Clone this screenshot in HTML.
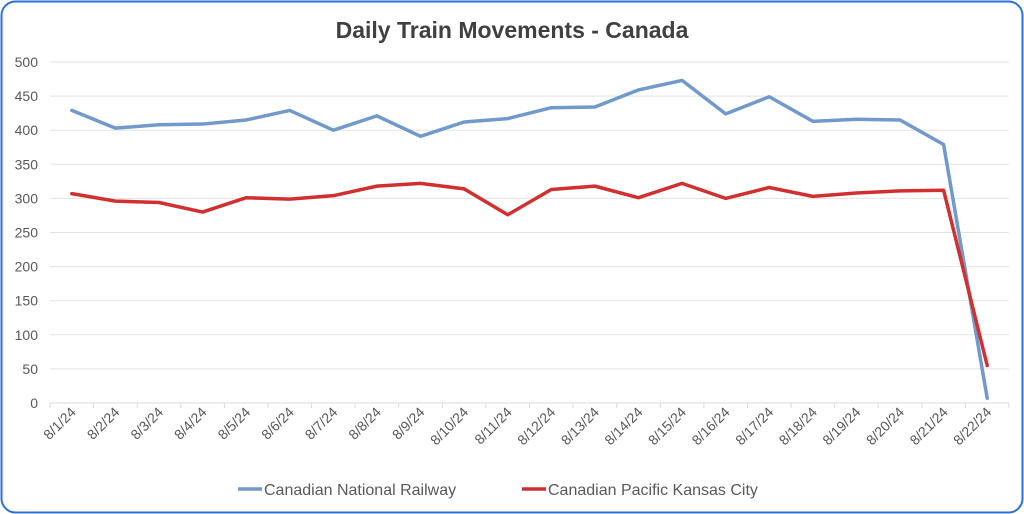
<!DOCTYPE html>
<html><head><meta charset="utf-8"><style>
html,body{margin:0;padding:0;background:#fff}
svg{display:block;font-family:"Liberation Sans",sans-serif}
</style></head><body>
<svg id="chart" width="1024" height="514" xmlns="http://www.w3.org/2000/svg">
<rect x="1.5" y="1.5" width="1021" height="511" rx="14" fill="#fff" stroke="#2f6fd6" stroke-width="2"/>
<text x="512" y="38" text-anchor="middle" font-size="23" font-weight="bold" fill="#404040">Daily Train Movements - Canada</text>
<g id="grid"></g><g id="axes"></g><g id="series"></g>
<g>
<line x1="238" y1="489" x2="262" y2="489" stroke="#7199cc" stroke-width="3.5"/>
<text x="264" y="495" font-size="16" fill="#595959">Canadian National Railway</text>
<line x1="522" y1="489" x2="546" y2="489" stroke="#d03030" stroke-width="3.5"/>
<text x="548" y="495" font-size="16" fill="#595959">Canadian Pacific Kansas City</text>
</g>
</svg>
<script>
const categories=["8/1/24","8/2/24","8/3/24","8/4/24","8/5/24","8/6/24","8/7/24","8/8/24","8/9/24","8/10/24","8/11/24","8/12/24","8/13/24","8/14/24","8/15/24","8/16/24","8/17/24","8/18/24","8/19/24","8/20/24","8/21/24","8/22/24"];
const cnValues=[429,403,408,409,415,429,400,421,391,412,417,433,434,459,473,424,449,413,416,415,379,7];
const cpkcValues=[307,296,294,280,301,299,304,318,322,314,276,313,318,301,322,300,316,303,308,311,312,55];
const yTicks=[0,50,100,150,200,250,300,350,400,450,500];
const NS="http://www.w3.org/2000/svg";
const x0=50,x1=1009,yTop=62,yBot=403,yMax=500;
const step=(x1-x0)/categories.length;
const xPos=i=>x0+step*(i+0.5);
const yPos=v=>yBot-(v/yMax)*(yBot-yTop);
function mk(tag,attrs,parent){const e=document.createElementNS(NS,tag);for(const k in attrs)e.setAttribute(k,attrs[k]);parent.appendChild(e);return e;}
const grid=document.getElementById('grid'),axes=document.getElementById('axes'),series=document.getElementById('series');
yTicks.forEach(t=>{
 if(t>0){const l=mk('line',{x1:x0,x2:x1,y1:yPos(t),y2:yPos(t),stroke:'#e3e3e3','stroke-width':1},grid);
 
 }
 const tx=mk('text',{x:38,y:yPos(t)+5,'text-anchor':'end','font-size':14,fill:'#595959'},axes);
 tx.textContent=t;
 
 
});
const ax=mk('line',{x1:x0,x2:x1,y1:yBot,y2:yBot,stroke:'#d9d9d9','stroke-width':1},axes);


for(let i=0;i<=categories.length;i++){
 const tk=mk('line',{x1:x0+step*i,x2:x0+step*i,y1:yBot,y2:yBot+5,stroke:'#d9d9d9'},axes);
 
 
}
categories.forEach((c,i)=>{
 const x=xPos(i)+5,y=yBot+10;
 const tx=mk('text',{x:x,y:y,'text-anchor':'end','font-size':14,fill:'#595959',transform:`rotate(-45 ${x} ${y})`},axes);
 tx.textContent=c;
 
 
});
function drawLine(vals,color,name){
 const p=mk('polyline',{points:vals.map((v,i)=>xPos(i)+','+yPos(v)).join(' '),fill:'none',stroke:color,'stroke-width':3.5,'stroke-linejoin':'round','stroke-linecap':'round'},series);
 
 
}
drawLine(cnValues,'#7199cc','series-cn-line');
drawLine(cpkcValues,'#d03030','series-cpkc-line');
</script>
</body></html>
